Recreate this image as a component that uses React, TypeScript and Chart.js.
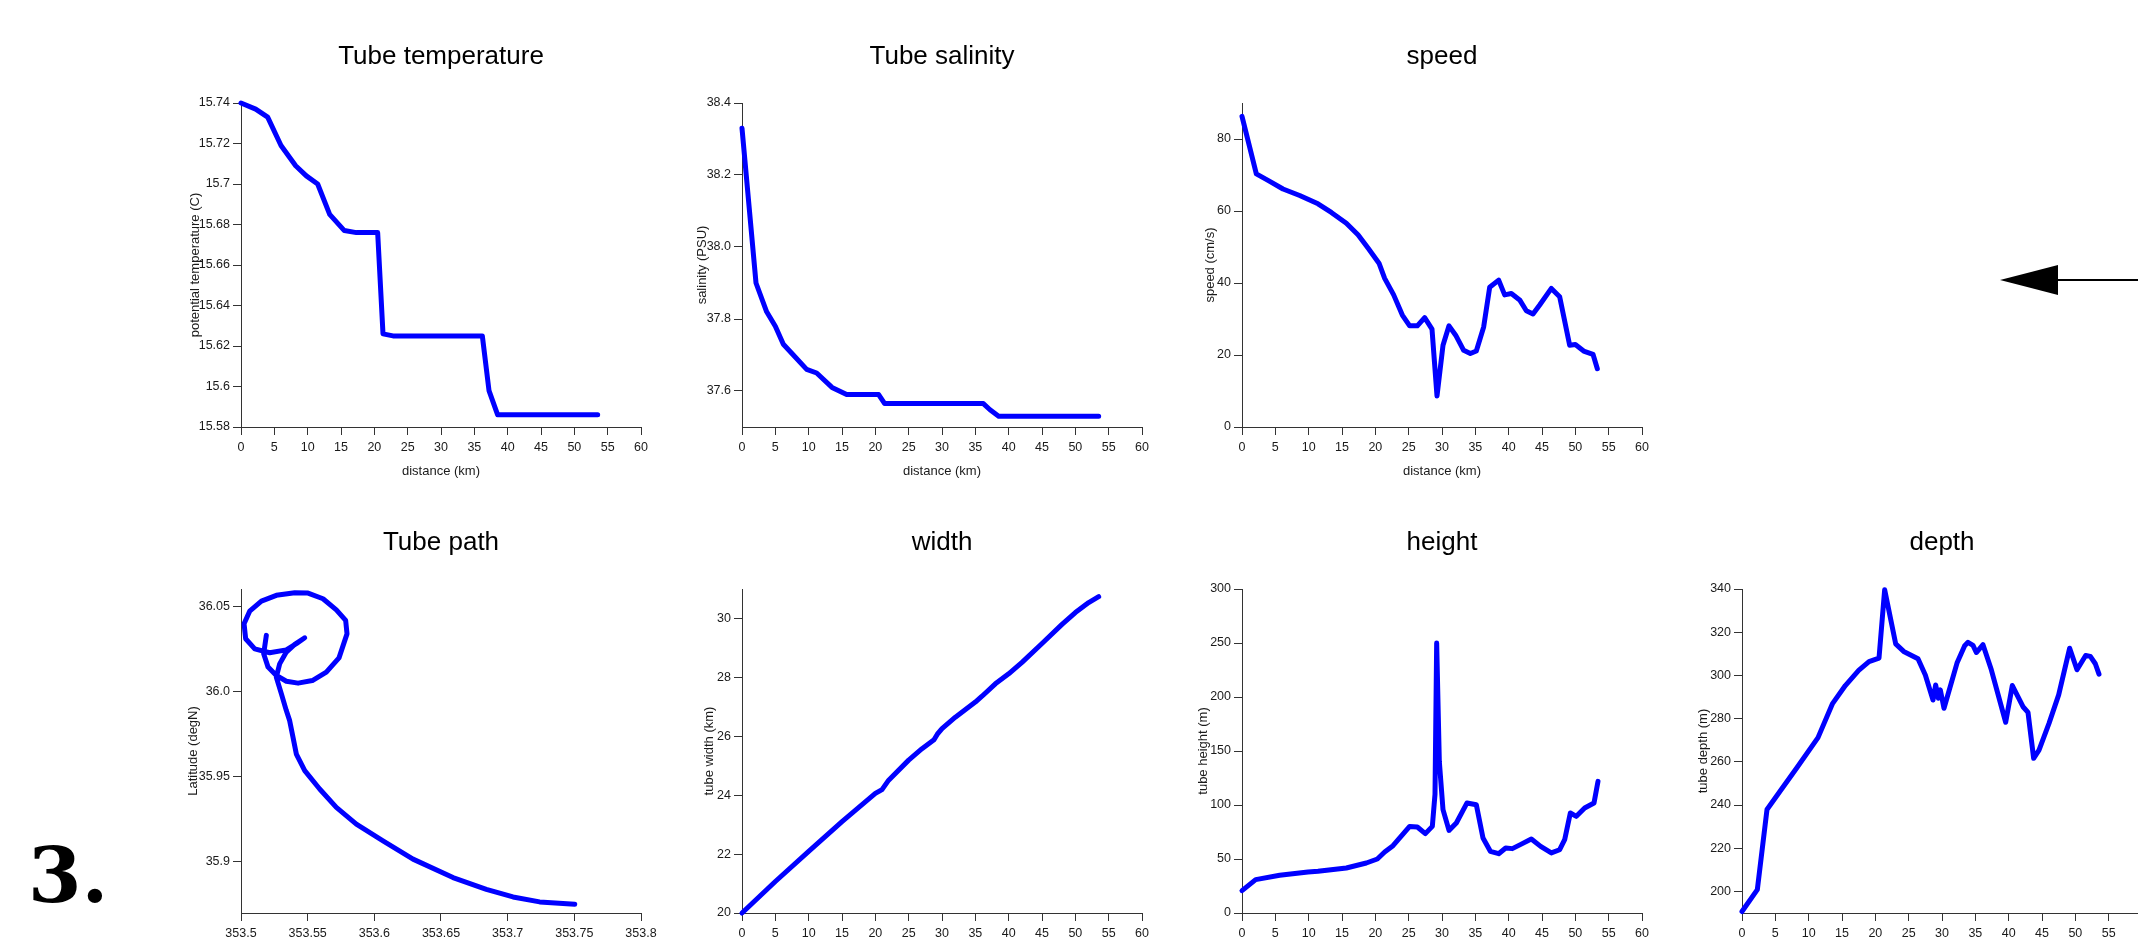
import React, { useEffect, useRef } from "react";
import { Chart, registerables } from "chart.js";

Chart.register(...registerables);

// ---------------- data ----------------
const tempDist = [0, 2.2, 4.0, 6.0, 8.2, 9.8, 11.5, 13.3, 15.5, 17.3, 20.5, 21.3, 22.8, 36.2, 37.2, 38.5, 53.5];
const tempVals = [15.74, 15.737, 15.733, 15.719, 15.709, 15.704, 15.7, 15.685, 15.677, 15.676, 15.676, 15.626, 15.625, 15.625, 15.598, 15.586, 15.586];

const salDist = [0, 2.1, 3.7, 5.0, 6.2, 7.7, 9.7, 11.2, 13.5, 15.7, 17.2, 20.5, 21.4, 36.2, 37.2, 38.5, 53.5];
const salVals = [38.33, 37.9, 37.82, 37.78, 37.73, 37.7, 37.66, 37.65, 37.61, 37.59, 37.59, 37.59, 37.565, 37.565, 37.548, 37.53, 37.53];

const spdDist = [0, 2.15, 3.9, 6.15, 8.65, 11.4, 13.4, 15.65, 17.4, 18.9, 20.55, 21.4, 22.75, 24.05, 25.15, 26.3, 27.4, 28.5, 29.25, 30.15, 31.05, 32.05, 33.25, 34.25, 35.15, 36.25, 37.15, 38.5, 39.4, 40.4, 41.65, 42.65, 43.65, 44.65, 46.4, 47.65, 49.15, 50.0, 51.25, 52.65, 53.3];
const spdVals = [86.3, 70.3, 68.5, 66.1, 64.3, 62.0, 59.6, 56.6, 53.4, 49.7, 45.5, 41.3, 36.7, 31.1, 28.1, 28.1, 30.4, 27.2, 8.6, 22.7, 28.1, 25.5, 21.3, 20.4, 21.1, 27.8, 38.8, 40.8, 36.7, 37.1, 35.3, 32.3, 31.4, 33.9, 38.5, 36.2, 22.7, 22.9, 21.1, 20.2, 16.2];

const pathLon = [353.7503, 353.724, 353.704, 353.684, 353.659, 353.629, 353.6065, 353.5865, 353.5715, 353.559, 353.5478, 353.5415, 353.539, 353.5365, 353.534, 353.5303, 353.5265, 353.529, 353.534, 353.5403, 353.5478, 353.5415, 353.534, 353.5215, 353.5103, 353.5035, 353.5023, 353.5065, 353.5153, 353.5265, 353.5403, 353.5503, 353.5615, 353.5715, 353.5785, 353.5795, 353.5735, 353.564, 353.5535, 353.5428, 353.534, 353.5265, 353.5203, 353.517, 353.519];
const pathLat = [35.8751, 35.8765, 35.8794, 35.8839, 35.8908, 35.9016, 35.9123, 35.9221, 35.9319, 35.9427, 35.9535, 35.9632, 35.973, 35.9828, 35.9887, 35.9985, 36.0083, 36.0161, 36.023, 36.0275, 36.0314, 36.0279, 36.0243, 36.0226, 36.0249, 36.0308, 36.0396, 36.047, 36.0529, 36.0563, 36.0578, 36.0576, 36.0543, 36.0478, 36.0416, 36.0337, 36.0196, 36.0112, 36.0063, 36.0048, 36.0059, 36.0093, 36.0142, 36.022, 36.0328];

const widDist = [0, 5, 10, 15, 20, 21, 22, 25, 27, 28.8, 29.3, 30, 32, 35, 36, 38, 40, 42, 45, 48, 50, 52, 53.5];
const widVals = [20.0, 21.07, 22.09, 23.1, 24.06, 24.19, 24.51, 25.19, 25.58, 25.88, 26.07, 26.26, 26.65, 27.16, 27.36, 27.78, 28.12, 28.51, 29.15, 29.8, 30.2, 30.54, 30.74];

const hgtDist = [0, 2.05, 5.65, 9.9, 11.4, 15.65, 18.65, 20.3, 21.4, 22.65, 25.15, 26.3, 27.5, 28.55, 28.95, 29.2, 29.6, 30.15, 31.05, 32.15, 33.75, 35.15, 36.15, 37.25, 38.5, 39.55, 40.55, 41.75, 43.4, 44.8, 46.4, 47.65, 48.4, 49.25, 50.15, 51.4, 52.8, 53.4];
const hgtVals = [20.7, 30.9, 34.9, 38.0, 38.6, 41.7, 46.3, 50, 56.5, 62.3, 80.2, 79.6, 73.5, 80.2, 110, 250, 140, 95.7, 76.5, 83.3, 101.9, 100.3, 69.4, 57.1, 54.9, 60.2, 59.6, 63.3, 68.5, 61.7, 55.6, 58.6, 67.9, 92.6, 89.5, 97.2, 101.9, 121.9];

const depDist = [0, 2.3, 3.75, 5.65, 8.15, 11.4, 13.55, 15.5, 17.5, 19.05, 20.55, 21.4, 23.05, 24.25, 26.4, 27.5, 28.65, 29.05, 29.45, 29.75, 30.3, 32.25, 33.4, 33.9, 34.65, 35.15, 36.15, 37.4, 39.55, 40.55, 42.15, 42.9, 43.75, 44.55, 46.05, 47.5, 49.15, 50.25, 51.55, 52.25, 53.0, 53.55];
const depVals = [190.7, 200.8, 237.9, 246.1, 256.9, 271.2, 286.8, 295.3, 302.3, 306.4, 308, 339.7, 314.6, 311.1, 307.7, 300.2, 288.6, 295.6, 289.4, 293.3, 284.8, 305.7, 313.7, 315.3, 313.9, 310.6, 314.2, 302.6, 278.3, 295.3, 285.5, 282.9, 261.6, 265.4, 277.8, 291, 312.6, 302.6, 309.2, 308.8, 305.4, 300.6];

// ---------------- tick labels ----------------
const distTicks = ["0", "5", "10", "15", "20", "25", "30", "35", "40", "45", "50", "55", "60"];
const depthDistTicks = ["0", "5", "10", "15", "20", "25", "30", "35", "40", "45", "50", "55"];
const lonTicks = ["353.5", "353.55", "353.6", "353.65", "353.7", "353.75", "353.8"];
const tempTicks = ["15.58", "15.6", "15.62", "15.64", "15.66", "15.68", "15.7", "15.72", "15.74"];
const salTicks = ["37.6", "37.8", "38.0", "38.2", "38.4"];
const spdTicks = ["0", "20", "40", "60", "80"];
const latTicks = ["35.9", "35.95", "36.0", "36.05"];
const widTicks = ["20", "22", "24", "26", "28", "30"];
const hgtTicks = ["0", "50", "100", "150", "200", "250", "300"];
const depTicks = ["200", "220", "240", "260", "280", "300", "320", "340"];

// ---------------- styling ----------------
const FONT = '"Liberation Sans", Arial, Helvetica, sans-serif';
const BLUE = "#0000ff";
const AXIS = "#333333";
const TXT = "#1a1a1a";
const YW = 80; // y-axis box width
const CW = 505;
const CH = 486;

type Spec = {
  title: string;
  xTitle?: string;
  yTitle: string;
  xs: number[];
  ys: number[];
  xMin: number;
  xMax: number;
  xTicks: string[];
  yMin: number;
  yMax: number;
  yTicks: string[];
  axisX: number;
  top: number;
  yGap: number;
};

const specs: Spec[] = [
  { title: "Tube temperature", xTitle: "distance (km)", yTitle: "potential temperature (C)", xs: tempDist, ys: tempVals, xMin: 0, xMax: 60, xTicks: distTicks, yMin: 15.58, yMax: 15.74, yTicks: tempTicks, axisX: 241, top: 0, yGap: 46 },
  { title: "Tube salinity", xTitle: "distance (km)", yTitle: "salinity (PSU)", xs: salDist, ys: salVals, xMin: 0, xMax: 60, xTicks: distTicks, yMin: 37.5, yMax: 38.4, yTicks: salTicks, axisX: 742, top: 0, yGap: 40 },
  { title: "speed", xTitle: "distance (km)", yTitle: "speed (cm/s)", xs: spdDist, ys: spdVals, xMin: 0, xMax: 60, xTicks: distTicks, yMin: 0, yMax: 90, yTicks: spdTicks, axisX: 1242, top: 0, yGap: 32 },
  { title: "Tube path", yTitle: "Latitude (degN)", xs: pathLon, ys: pathLat, xMin: 353.5, xMax: 353.8, xTicks: lonTicks, yMin: 35.87, yMax: 36.06, yTicks: latTicks, axisX: 241, top: 486, yGap: 48 },
  { title: "width", yTitle: "tube width (km)", xs: widDist, ys: widVals, xMin: 0, xMax: 60, xTicks: distTicks, yMin: 20, yMax: 31, yTicks: widTicks, axisX: 742, top: 486, yGap: 33 },
  { title: "height", yTitle: "tube height (m)", xs: hgtDist, ys: hgtVals, xMin: 0, xMax: 60, xTicks: distTicks, yMin: 0, yMax: 300, yTicks: hgtTicks, axisX: 1242, top: 486, yGap: 39 },
  { title: "depth", yTitle: "tube depth (m)", xs: depDist, ys: depVals, xMin: 0, xMax: 60, xTicks: depthDistTicks, yMin: 190, yMax: 340, yTicks: depTicks, axisX: 1742, top: 486, yGap: 39 },
];

function Panel({ spec }: { spec: Spec }) {
  const ref = useRef<HTMLCanvasElement>(null);
  useEffect(() => {
    const canvas = ref.current;
    if (!canvas) return;
    const pts = spec.xs.map((x, i) => ({ x, y: spec.ys[i] }));
    const xVals = spec.xTicks.map(Number);
    const yVals = spec.yTicks.map(Number);
    const tickFont = { family: FONT, size: 12.5 };
    const titleFont = { family: FONT, size: 13 };
    const chart = new Chart(canvas, {
      type: "scatter",
      data: {
        datasets: [
          {
            data: pts,
            showLine: true,
            borderColor: BLUE,
            backgroundColor: BLUE,
            borderWidth: 5,
            pointRadius: 0,
            pointHoverRadius: 0,
            borderCapStyle: "round",
            borderJoinStyle: "round",
            tension: 0,
            clip: false,
          } as any,
        ],
      },
      options: {
        animation: false,
        responsive: false,
        devicePixelRatio: 1,
        events: [],
        layout: { padding: { top: 0, left: 0, right: CW - YW - 400, bottom: 0 } },
        plugins: {
          legend: { display: false },
          tooltip: { enabled: false },
          title: {
            display: true,
            text: spec.title,
            color: "#000",
            font: { family: FONT, size: 26, weight: "normal" },
            padding: { top: 41, bottom: 30.8 },
            fullSize: false,
          } as any,
        },
        scales: {
          x: {
            type: "linear",
            min: spec.xMin,
            max: spec.xMax,
            afterBuildTicks: (s: any) => {
              s.ticks = xVals.map((v) => ({ value: v }));
            },
            afterFit: (s: any) => {
              s.height = CH - 427;
            },
            grid: { display: true, drawOnChartArea: false, drawTicks: true, tickLength: 8, color: AXIS, lineWidth: 1 },
            border: { display: true, color: AXIS, width: 1 },
            ticks: {
              font: tickFont,
              color: TXT,
              padding: 5,
              maxRotation: 0,
              autoSkip: false,
              callback: (_v: any, i: number) => spec.xTicks[i],
            },
            title: {
              display: !!spec.xTitle,
              text: spec.xTitle || "",
              font: titleFont,
              color: TXT,
              padding: { top: 0, bottom: 6.5 },
            },
          },
          y: {
            type: "linear",
            min: spec.yMin,
            max: spec.yMax,
            afterBuildTicks: (s: any) => {
              s.ticks = yVals.map((v) => ({ value: v }));
            },
            afterFit: (s: any) => {
              s.width = YW;
            },
            grid: { display: true, drawOnChartArea: false, drawTicks: true, tickLength: 8, color: AXIS, lineWidth: 1 },
            border: { display: true, color: AXIS, width: 1 },
            ticks: {
              font: tickFont,
              color: TXT,
              padding: 3,
              autoSkip: false,
              callback: (_v: any, i: number) => spec.yTicks[i],
            },
            title: {
              display: true,
              text: spec.yTitle,
              font: titleFont,
              color: TXT,
              padding: { top: YW - spec.yGap - 7.8, bottom: 0 },
            },
          },
        },
      } as any,
    });
    return () => chart.destroy();
  }, [spec]);
  return (
    <canvas
      ref={ref}
      width={CW}
      height={CH}
      style={{ position: "absolute", left: spec.axisX - YW, top: spec.top, width: CW, height: CH }}
    />
  );
}

export default function App() {
  return (
    <div
      style={{
        position: "absolute",
        left: 0,
        top: 0,
        width: 2138,
        height: 949,
        overflow: "hidden",
        background: "#ffffff",
      }}
    >
      {specs.map((s) => (
        <Panel key={s.title} spec={s} />
      ))}
      <svg
        width={2138}
        height={949}
        style={{ position: "absolute", left: 0, top: 0, pointerEvents: "none" }}
      >
        <line x1={2057} y1={280} x2={2138} y2={280} stroke="#000" strokeWidth={2} />
        <polygon points="2000,280 2058,265 2058,295" fill="#000" />
        <text x={28} y={902} fontFamily='"DejaVu Serif", serif' fontWeight="bold" fontSize={77} fill="#000">
          3.
        </text>
      </svg>
    </div>
  );
}
